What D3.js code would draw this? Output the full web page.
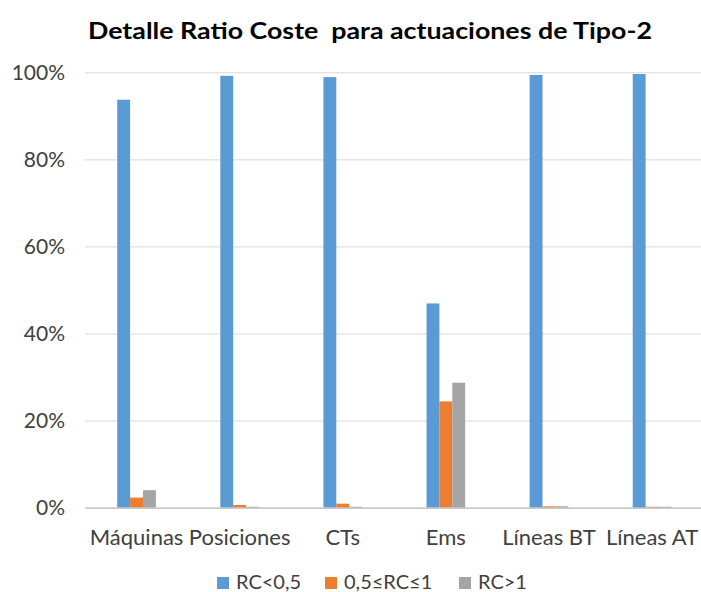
<!DOCTYPE html>
<html>
<head>
<meta charset="utf-8">
<script src="https://cdn.jsdelivr.net/npm/d3@7"></script>
<style>
  body { margin: 0; background: #fff; }
  text { font-family: Lato, "Open Sans", sans-serif; }
</style>
</head>
<body>
<div id="chart"></div>
<script>
// Chart data
const categories = ["Máquinas", "Posiciones", "CTs", "Ems", "Líneas BT", "Líneas AT"];
const seriesNames = ["RC<0,5", "0,5≤RC≤1", "RC>1"];
const rcLow = [0.937, 0.992, 0.989, 0.469, 0.994, 0.996];
const rcMid = [0.023, 0.006, 0.009, 0.244, 0.003, 0.002];
const rcHigh = [0.040, 0.002, 0.002, 0.287, 0.003, 0.002];
const yTicks = [0, 0.2, 0.4, 0.6, 0.8, 1];

const colors = ["#5b9bd5", "#ed7d31", "#a5a5a5"];
const width = 701, height = 592;
const plot = {left: 85, right: 703.6, top: 72.3, bottom: 507.6};

// Build rows for drawing
const values = [rcLow, rcMid, rcHigh];
let rows = categories.map(function (c, i) {
    return {cat: c, vals: seriesNames.map(function (s, j) { return {key: s, idx: j, value: values[j][i]}; })};
});

let svg = d3.select("#chart")
    .append("svg")
    .attr("width", width)
    .attr("height", height);

// Scales
let x = d3.scaleBand()
    .domain(categories)
    .range([plot.left, plot.right])
    .paddingInner(0)
    .paddingOuter(0);

let xSub = d3.scaleBand()
    .domain(seriesNames)
    .range([0, x.bandwidth()])
    .paddingInner(0)
    .paddingOuter(2.5);

let y = d3.scaleLinear()
    .domain([0, 1])
    .range([plot.bottom, plot.top]);

// Gridlines + y tick labels
let yAxis = svg.append("g")
    .attr("transform", `translate(${plot.left},0)`)
    .call(d3.axisLeft(y)
        .tickValues(yTicks)
        .tickFormat(d3.format(".0%"))
        .tickSize(-(plot.right - plot.left))
        .tickPadding(20));
yAxis.select(".domain").remove();
yAxis.selectAll(".tick line")
    .attr("stroke", "#d9d9d9")
    .attr("stroke-width", 1);
yAxis.selectAll(".tick text")
    .attr("fill", "#404040")
    .style("font-size", "21px");

// Bars
let groups = svg.selectAll(".grp")
    .data(rows)
    .enter()
    .append("g")
    .attr("class", "grp")
    .attr("transform", function (d) { return `translate(${x(d.cat)},0)`; });

groups.selectAll("rect")
    .data(function (d) { return d.vals; })
    .enter()
    .append("rect")
    .attr("x", function (d) { return xSub(d.key); })
    .attr("width", xSub.bandwidth())
    .attr("y", function (d) { return y(d.value); })
    .attr("height", function (d) { return y(0) - y(d.value); })
    .attr("fill", function (d) { return colors[d.idx]; });

// Baseline (category axis)
let xAxis = svg.append("g")
    .attr("transform", `translate(0,${plot.bottom})`)
    .call(d3.axisBottom(x).tickSize(0).tickPadding(22));
xAxis.select(".domain")
    .attr("stroke", "#bfbfbf")
    .attr("stroke-width", 1.2);
xAxis.selectAll(".tick text")
    .attr("fill", "#404040")
    .style("font-size", "22px");

// Title
svg.append("text")
    .attr("x", 370)
    .attr("y", 39)
    .attr("text-anchor", "middle")
    .style("font-size", "23px")
    .style("font-weight", "bold")
    .attr("fill", "#000")
    .text("Detalle Ratio Coste  para actuaciones de Tipo-2")
    .attr("textLength", 564)
    .attr("lengthAdjust", "spacingAndGlyphs")
    .style("white-space", "pre");

// Legend
const legendX = [217, 325, 459];
let legend = svg.selectAll(".leg")
    .data(seriesNames)
    .enter()
    .append("g")
    .attr("class", "leg")
    .attr("transform", function (d, i) { return `translate(${legendX[i]},577)`; });
legend.append("rect")
    .attr("width", 12)
    .attr("height", 12)
    .attr("fill", function (d, i) { return colors[i]; });
legend.append("text")
    .attr("x", 19)
    .attr("y", 5)
    .attr("dy", "0.35em")
    .attr("fill", "#404040")
    .style("font-size", "20px")
    .text(function (d) { return d; });
</script>
</body>
</html>
